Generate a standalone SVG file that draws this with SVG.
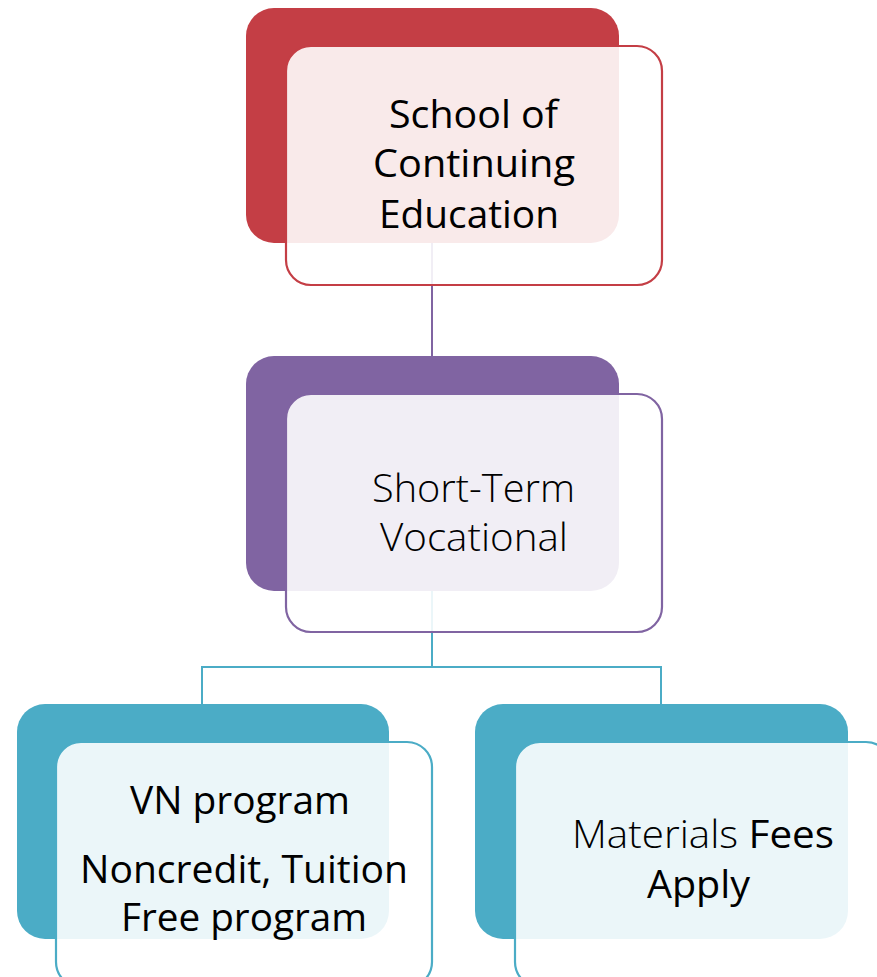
<svg xmlns="http://www.w3.org/2000/svg" width="877" height="977" viewBox="0 0 877 977">
<style>
.back{stroke:none}
.front{fill:#ffffff;fill-opacity:0.89;stroke-width:2.2}
.t{font-family:"Open Sans","Liberation Sans",sans-serif;fill:#000;text-anchor:start}
.conn{fill:none;stroke-width:2}
</style>
<rect width="877" height="977" fill="#ffffff"/>
<g id="node-sce-back"><rect class="back" x="246" y="8" width="373" height="235" rx="28" fill="#C43E45"/></g>
<g id="node-stv-back"><rect class="back" x="246" y="356" width="373" height="235" rx="28" fill="#8064A2"/></g>
<g id="node-vn-back"><rect class="back" x="17" y="704" width="372" height="235" rx="28" fill="#4BACC6"/></g>
<g id="node-mat-back"><rect class="back" x="475" y="704" width="373" height="235" rx="28" fill="#4BACC6"/></g>
<g id="connectors">
<path class="conn" stroke="#8064A2" d="M432 243 V356"/>
<path class="conn" stroke="#4BACC6" d="M432 591 V667 M202 667 H661 M202 666 V704 M661 666 V704"/>
</g>
<g id="node-sce">
<rect class="front" x="286" y="46" width="376" height="239" rx="25" stroke="#C43E45"/>
<text class="t" x="389" y="128" font-size="39" textLength="169" lengthAdjust="spacingAndGlyphs">School of</text>
<text class="t" x="373" y="177" font-size="39" textLength="202" lengthAdjust="spacingAndGlyphs">Continuing</text>
<text class="t" x="379" y="228" font-size="39" textLength="180" lengthAdjust="spacingAndGlyphs">Education</text>
</g>
<g id="node-stv">
<rect class="front" x="286" y="394" width="376" height="238" rx="25" stroke="#8064A2"/>
<text class="t" x="372" y="502" font-size="39" font-weight="300" textLength="203" lengthAdjust="spacingAndGlyphs">Short-Term</text>
<text class="t" x="380" y="551" font-size="39" font-weight="300" textLength="188" lengthAdjust="spacingAndGlyphs">Vocational</text>
</g>
<g id="node-vn">
<rect class="front" x="56" y="742" width="376" height="245" rx="25" stroke="#4BACC6"/>
<text class="t" x="130" y="814" font-size="38" textLength="220" lengthAdjust="spacingAndGlyphs">VN program</text>
<text class="t" x="80" y="883" font-size="38" textLength="328" lengthAdjust="spacingAndGlyphs">Noncredit, Tuition</text>
<text class="t" x="121" y="931" font-size="38" textLength="246" lengthAdjust="spacingAndGlyphs">Free program</text>
</g>
<g id="node-mat">
<rect class="front" x="515" y="742" width="376" height="245" rx="25" stroke="#4BACC6"/>
<text class="t" x="572" y="848" font-size="38" textLength="262" lengthAdjust="spacingAndGlyphs"><tspan font-weight="300">Materials </tspan><tspan>Fees</tspan></text>
<text class="t" x="647" y="898" font-size="38" textLength="103" lengthAdjust="spacingAndGlyphs">Apply</text>
</g>
</svg>
